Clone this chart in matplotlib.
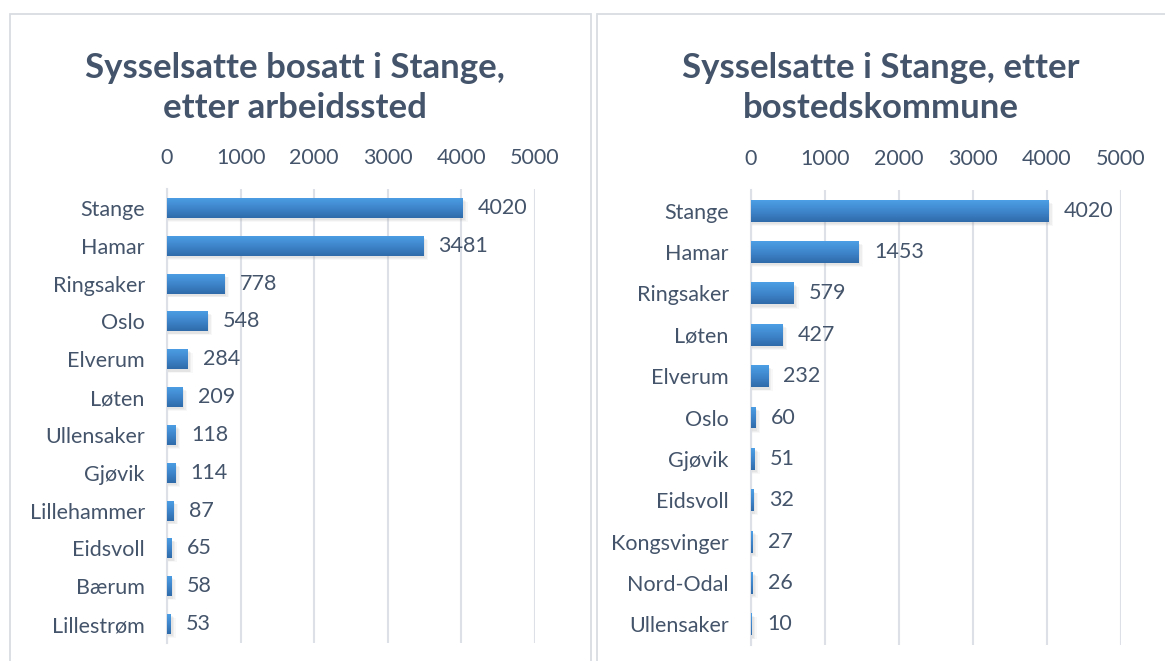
import numpy as np
import matplotlib
matplotlib.use("Agg")
import matplotlib.pyplot as plt
from matplotlib.patches import Rectangle
from matplotlib.colors import LinearSegmentedColormap

# ---- data ----
left_title = "Sysselsatte bosatt i Stange,\netter arbeidssted"
left_cats = ["Stange", "Hamar", "Ringsaker", "Oslo", "Elverum", "Løten",
             "Ullensaker", "Gjøvik", "Lillehammer", "Eidsvoll", "Bærum", "Lillestrøm"]
left_vals = [4020, 3481, 778, 548, 284, 209, 118, 114, 87, 65, 58, 53]

right_title = "Sysselsatte i Stange, etter\nbostedskommune"
right_cats = ["Stange", "Hamar", "Ringsaker", "Løten", "Elverum", "Oslo",
              "Gjøvik", "Eidsvoll", "Kongsvinger", "Nord-Odal", "Ullensaker"]
right_vals = [4020, 1453, 579, 427, 232, 60, 51, 32, 27, 26, 10]

x_ticks = [0, 1000, 2000, 3000, 4000, 5000]

TEXT = "#44546A"
GRID = "#DDE1E7"
FONT = "Lato"
FS = 15.5

W, H = 1165, 661
fig = plt.figure(figsize=(W / 100, H / 100), dpi=100)
fig.patch.set_facecolor("white")

def px_rect(x0, y0, x1, y1):
    return [x0 / W, 1 - y1 / H, (x1 - x0) / W, (y1 - y0) / H]

# panel borders
for (x0, y0, x1, y1) in [(10, 14, 591, 700), (597, 14, 1200, 700)]:
    fig.patches.append(Rectangle((x0 / W, 1 - y1 / H), (x1 - x0) / W, (y1 - y0) / H,
                                 transform=fig.transFigure, fill=False,
                                 edgecolor="#D9DDE3", linewidth=1.3))

cmap = LinearSegmentedColormap.from_list("bar", ["#4C9FE5", "#3F86CC", "#2F6BAA"])
grad = np.linspace(0, 1, 64).reshape(-1, 1)

def draw(rect, cats, vals, title, title_x):
    ax = fig.add_axes(rect)
    n = len(cats)
    y = np.arange(n)
    h = 0.53
    # soft shadow
    for k, a in enumerate([0.10, 0.08, 0.06]):
        ax.barh(y + 0.06 + 0.02 * k, np.array(vals) + 25 + 20 * k, height=h,
                color="#8A8A8A", alpha=a, zorder=2, linewidth=0)
    bars = ax.barh(y, vals, height=h, color="#3F86CC", zorder=3, linewidth=0)
    for b in bars:
        x0, yb = b.get_x(), b.get_y()
        im = ax.imshow(grad, cmap=cmap, aspect="auto", zorder=4,
                       extent=(x0, x0 + b.get_width(), yb + b.get_height(), yb),
                       interpolation="bilinear")
        im.set_clip_path(b)
    for i, v in enumerate(vals):
        ax.annotate(str(v), (v, i), xytext=(11, 0), textcoords="offset points",
                    va="center", ha="left", color=TEXT, fontsize=FS, family=FONT)
    ax.set_xlim(0, 5000)
    ax.set_ylim(n - 0.5, -0.5)
    ax.set_xticks(x_ticks)
    ax.set_xticklabels([str(t) for t in x_ticks])
    ax.set_yticks(y)
    ax.set_yticklabels(cats)
    ax.xaxis.tick_top()
    ax.tick_params(axis="x", length=0, pad=15, labelsize=FS, labelcolor=TEXT)
    ax.tick_params(axis="y", length=0, pad=16, labelsize=FS, labelcolor=TEXT)
    for lab in ax.get_xticklabels() + ax.get_yticklabels():
        lab.set_family(FONT)
    ax.grid(axis="x", color=GRID, linewidth=1.5, zorder=0)
    ax.set_axisbelow(True)
    for s in ["top", "right", "bottom"]:
        ax.spines[s].set_visible(False)
    ax.spines["left"].set_color(GRID)
    ax.spines["left"].set_linewidth(1.5)
    fig.text(title_x / W, 1 - 88 / H, title, ha="center", va="center",
             fontsize=25, fontweight="bold", color=TEXT, family=FONT,
             linespacing=1.3)
    return ax

draw(px_rect(167, 189, 535, 643), left_cats, left_vals, left_title, 295)
draw(px_rect(751, 190, 1121, 645), right_cats, right_vals, right_title, 881)

fig.savefig("out.png", dpi=100, facecolor="white")
